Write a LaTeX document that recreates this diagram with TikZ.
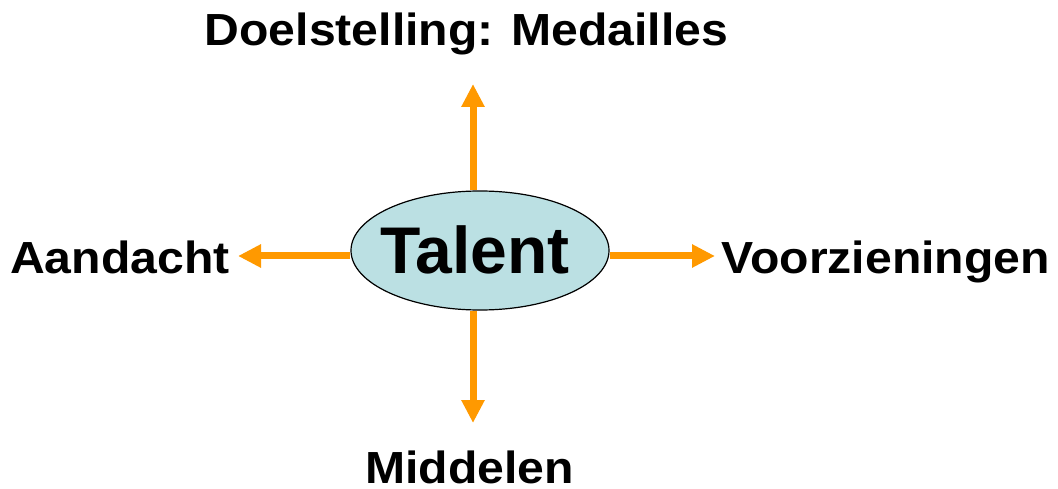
\documentclass[tikz,border=0pt]{standalone}
\usepackage{fontspec}
\setmainfont{Liberation Sans}
\newfontfamily\widefont[FakeStretch=1.07]{Liberation Sans}
\usetikzlibrary{shapes.geometric,arrows.meta}
\definecolor{arr}{HTML}{FF9900}
\definecolor{ellfill}{HTML}{BBE0E3}
\begin{document}
\begin{tikzpicture}[x=1pt,y=-1pt,
  lbl/.style={font=\widefont\fontsize{45}{48}\selectfont\bfseries, inner sep=0pt},
  conn/.style={draw=arr, line width=7pt, -{Triangle[length=23pt,width=22pt]}}]
\useasboundingbox (0,0) rectangle (1058,489);
\node[ellipse, draw=black, line width=1.2pt, fill=ellfill, minimum width=258pt, minimum height=119pt, inner sep=0pt] (talent) at (480,250.5) {};
\node[inner sep=0pt, anchor=base, font=\fontsize{66}{70}\selectfont\bfseries] (tt) at (475,273) {Talent};
\node[lbl, anchor=base] (top) at (466.5,46) {Doelstelling: Medailles};
\node[lbl, anchor=base west] (left) at (10,273) {Aandacht};
\node[lbl, anchor=base east] (right) at (1050,273) {Voorzieningen};
\node[lbl, anchor=base] (bot) at (469.5,483) {Middelen};
\coordinate (tT) at (473,84);
\coordinate (tB) at (473,423);
\coordinate (tL) at (238,256);
\coordinate (tR) at (715,256);
\draw[conn] (talent.north -| tT) -- (tT);
\draw[conn] (talent.south -| tB) -- (tB);
\draw[conn] (talent.west |- tL) -- (tL);
\draw[conn] (talent.east |- tR) -- (tR);
\end{tikzpicture}
\end{document}
